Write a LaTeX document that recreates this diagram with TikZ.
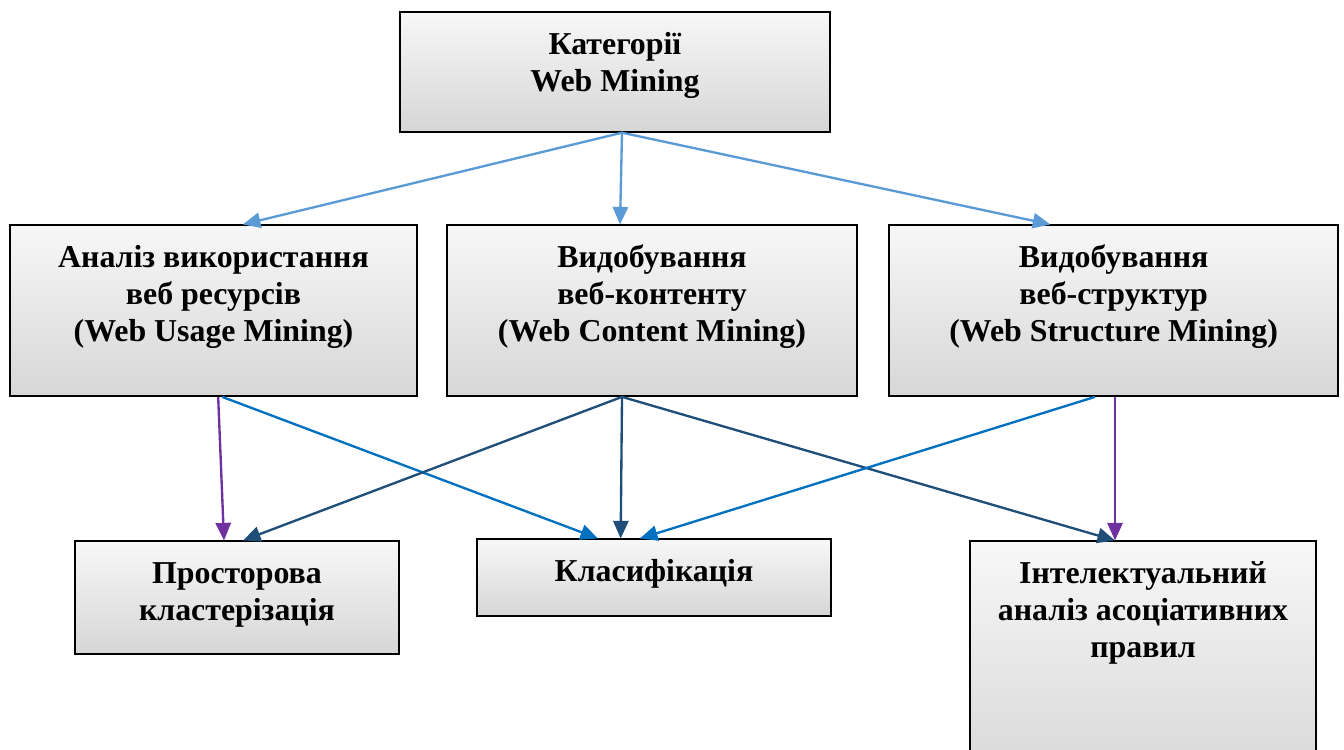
\documentclass[tikz,border=0pt]{standalone}
\usepackage{fontspec}
\setmainfont{Liberation Serif}
\usepackage{xcolor}
\usepackage{tikz}
\usetikzlibrary{arrows.meta}
\definecolor{lightline}{HTML}{5B9BD5}
\definecolor{blueline}{HTML}{0070C0}
\definecolor{darkline}{HTML}{1F4E79}
\definecolor{purpleline}{HTML}{7030A0}
\tikzstyle{stage} = [rectangle, 
draw=black, 
line width=0.6pt, 
top color=black!3, 
bottom color=black!16, 
inner sep=0pt, 
font=\bfseries\fontsize{13.6}{15.9}\selectfont]
\tikzstyle{arrow} = [line width=1pt, -{Triangle[length=7.5pt,width=6.5pt]}]
% text sits at the top of the box
\newcommand{\toptext}[3]{\parbox[c][#2][t]{#1}{\centering\rule{0pt}{18pt}#3}}

\begin{document}
\begin{tikzpicture}[node distance=3.58cm]
\useasboundingbox (0,0) rectangle (20.16,-11.235);
\clip (0,0) rectangle (20.16,-11.235);

\node (cat) [stage] at (9.225,-1.08) {\toptext{6.45cm}{1.8cm}{Категорії\\Web Mining}};
\node (usage) [stage, below of=cat, xshift=-6.0225cm] {\toptext{6.105cm}{2.565cm}{Аналіз використання\\веб ресурсів\\(Web Usage Mining)}};
\node (content) [stage, below of=cat, xshift=0.555cm] {\toptext{6.15cm}{2.565cm}{Видобування\\веб-контенту\\(Web Content Mining)}};
\node (structure) [stage, below of=cat, xshift=7.48cm] {\toptext{6.735cm}{2.565cm}{Видобування\\веб-структур\\(Web Structure Mining)}};
\node (spatial) [stage, below of=usage, xshift=0.3525cm, yshift=-0.725cm] {\toptext{4.86cm}{1.695cm}{Просторова\\кластерізація}};
\node (classif) [stage, below of=content, xshift=0.03cm, yshift=-0.425cm] {\toptext{5.31cm}{1.155cm}{Класифікація}};
\node (assoc) [stage, below of=structure, xshift=0.44cm, yshift=-1.745cm] {\toptext{5.19cm}{3.735cm}{Інтелектуальний\\аналіз асоціативних\\правил}};

% from the top box
\draw [arrow, lightline] ([xshift=0.105cm]cat.south) -- ([xshift=0.44cm]usage.north);
\draw [arrow, lightline] ([xshift=0.105cm]cat.south) -- ([xshift=-0.48cm]content.north);
\draw [arrow, lightline] ([xshift=0.105cm]cat.south) -- ([xshift=-0.95cm]structure.north);

% to the methods
\draw [arrow, purpleline] ([xshift=0.07cm]usage.south) -- ([xshift=-0.195cm]spatial.north);
\draw [arrow, blueline] ([xshift=0.13cm]usage.south) -- ([xshift=-0.84cm]classif.north);
\draw [arrow, darkline] ([xshift=-0.45cm]content.south) -- ([xshift=0.09cm]spatial.north);
\draw [arrow, darkline] ([xshift=-0.45cm]content.south) -- ([xshift=-0.5cm]classif.north);
\draw [arrow, darkline] ([xshift=-0.45cm]content.south) -- ([xshift=-0.42cm]assoc.north);
\draw [arrow, blueline] ([xshift=-0.28cm]structure.south) -- ([xshift=-0.21cm]classif.north);
\draw [arrow, purpleline] ([xshift=0.02cm]structure.south) -- ([xshift=-0.42cm]assoc.north);

\end{tikzpicture}
\end{document}
